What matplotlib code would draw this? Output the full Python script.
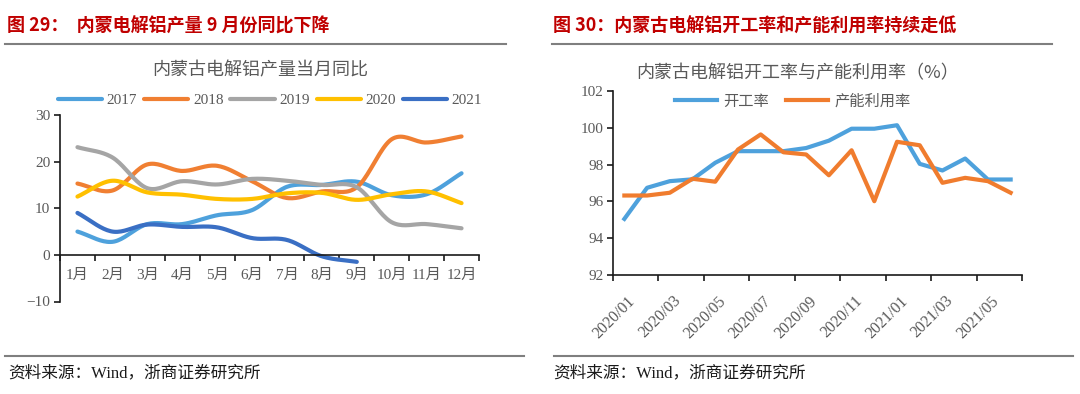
import numpy as np
import matplotlib
matplotlib.use('Agg')
import matplotlib.pyplot as plt
from matplotlib.lines import Line2D

plt.rcParams['font.family'] = ['Liberation Serif', 'Noto Sans CJK SC']

# ---------------- data ----------------
months = ['1月', '2月', '3月', '4月', '5月', '6月', '7月', '8月', '9月', '10月', '11月', '12月']
y2017 = [5.0, 2.8, 6.6, 6.6, 8.5, 9.6, 14.6, 15.0, 15.7, 12.8, 13.0, 17.5]
y2018 = [15.3, 13.8, 19.4, 18.0, 19.1, 15.8, 12.2, 13.6, 14.5, 24.8, 24.1, 25.4]
y2019 = [23.1, 20.9, 14.3, 15.8, 15.1, 16.3, 15.9, 15.0, 14.5, 7.0, 6.6, 5.7]
y2020 = [12.5, 15.9, 13.4, 12.9, 12.0, 12.0, 13.2, 13.3, 11.8, 13.0, 13.6, 11.1]
y2021 = [9.0, 5.0, 6.5, 6.0, 5.9, 3.6, 3.2, -0.3, -1.5]
series_labels = ['2017', '2018', '2019', '2020', '2021']

dates = ['2020/01', '2020/02', '2020/03', '2020/04', '2020/05', '2020/06',
         '2020/07', '2020/08', '2020/09', '2020/10', '2020/11', '2020/12',
         '2021/01', '2021/02', '2021/03', '2021/04', '2021/05', '2021/06']
kaigong = [95.05, 96.74, 97.10, 97.20, 98.10, 98.73, 98.73, 98.73, 98.90,
           99.30, 99.95, 99.95, 100.14, 98.04, 97.68, 98.33, 97.19, 97.19]
channeng = [96.32, 96.32, 96.47, 97.23, 97.07, 98.82, 99.64, 98.67, 98.55,
            97.42, 98.78, 96.01, 99.24, 99.05, 97.01, 97.28, 97.10, 96.47]
right_labels = ['开工率', '产能利用率']

# ---------------- helpers ----------------
W, H = 1080, 394
CJK = ['Noto Sans CJK SC', 'DejaVu Sans']
GRAY = '#595959'


def smooth(x, y, n=20):
    """Catmull-Rom rendering of a line through the given points (Excel-like smoothing)."""
    P = np.column_stack([np.asarray(x, float), np.asarray(y, float)])
    P = np.vstack([2 * P[0] - P[1], P, 2 * P[-1] - P[-2]])
    t = np.linspace(0, 1, n, endpoint=False)[:, None]
    out = []
    for i in range(1, len(P) - 2):
        p0, p1, p2, p3 = P[i - 1], P[i], P[i + 1], P[i + 2]
        pts = 0.5 * (2 * p1 + (-p0 + p2) * t + (2 * p0 - 5 * p1 + 4 * p2 - p3) * t ** 2
                     + (-p0 + 3 * p1 - 3 * p2 + p3) * t ** 3)
        out.append(pts)
    out.append(P[-2][None, :])
    r = np.vstack(out)
    return r[:, 0], r[:, 1]


def fx(px):
    return px / W


def fy(py):
    return 1 - py / H


fig = plt.figure(figsize=(10.8, 3.94), dpi=100)

# ---------------- headings & separators ----------------
fig.text(fx(7), fy(26), '图 29：  内蒙电解铝产量 9 月份同比下降', fontsize=13, fontweight='bold',
         color='#C00000', family=CJK, ha='left', va='center')
fig.text(fx(553), fy(26), '图 30：内蒙古电解铝开工率和产能利用率持续走低', fontsize=13, fontweight='bold',
         color='#C00000', family=CJK, ha='left', va='center')
for x0, x1, yy in [(5, 506, 44), (552, 1052, 44), (5, 524, 356), (554, 1073, 356)]:
    fig.add_artist(Line2D([fx(x0), fx(x1)], [fy(yy), fy(yy)], color='#7F7F7F', lw=1.5,
                          transform=fig.transFigure))
for xs in (8, 553):
    fig.text(fx(xs), fy(373), '资料来源：Wind，浙商证券研究所', fontsize=12, color='#1a1a1a',
             ha='left', va='center')

# ---------------- left chart ----------------
ax1 = fig.add_axes([fx(60), fy(301.5), 419 / W, 186.5 / H])
colors1 = ['#4EA1DC', '#F07F32', '#A5A5A5', '#FFC000', '#3A6FC4']
data1 = [y2017, y2018, y2019, y2020, y2021]
handles = []
for ys, c, lab in zip(data1, colors1, series_labels):
    xs = np.arange(len(ys))
    sx, sy = smooth(xs, ys)
    ln, = ax1.plot(sx, sy, color=c, lw=3.0, solid_capstyle='round', label=lab)
    handles.append(ln)
ax1.set_xlim(-0.5, 11.5)
ax1.set_ylim(-10, 30)
for s in ('top', 'right'):
    ax1.spines[s].set_visible(False)
ax1.spines['bottom'].set_position(('data', 0))
for s in ('left', 'bottom'):
    ax1.spines[s].set_linewidth(1.2)
    ax1.spines[s].set_color('#1a1a1a')
ax1.set_xticks(np.arange(-0.5, 12, 1))
ax1.set_xticks(np.arange(12), minor=True)
ax1.set_xticklabels(months, minor=True)
ax1.tick_params(axis='x', which='major', direction='out', length=4.5, width=1.2,
                color='#1a1a1a', labelbottom=False)
ax1.tick_params(axis='x', which='minor', length=0, pad=10, labelsize=11, labelcolor=GRAY)
ax1.set_yticks([-10, 0, 10, 20, 30])
ax1.tick_params(axis='y', direction='out', length=4, width=1.2, color='#1a1a1a',
                labelsize=11, labelcolor=GRAY, pad=3)
fig.text(fx(260), fy(70.5), '内蒙古电解铝产量当月同比', fontsize=13, color=GRAY,
         family=CJK, ha='center', va='center')
fig.legend(handles=handles, loc='center', bbox_to_anchor=(fx(270), fy(100)),
           bbox_transform=fig.transFigure, ncol=5, frameon=False, fontsize=11,
           handlelength=2.9, handletextpad=0.3, columnspacing=0.45, labelcolor=GRAY,
           borderpad=0)

# ---------------- right chart ----------------
ax2 = fig.add_axes([fx(613), fy(275), 409 / W, 184 / H])
xr = np.arange(len(dates))
l1, = ax2.plot(xr, kaigong, color='#4EA1DC', lw=3.0, label=right_labels[0])
l2, = ax2.plot(xr, channeng, color='#F07C2E', lw=3.0, label=right_labels[1])
ax2.set_xlim(-0.5, 17.5)
ax2.set_ylim(92, 102)
for s in ('top', 'right'):
    ax2.spines[s].set_visible(False)
for s in ('left', 'bottom'):
    ax2.spines[s].set_linewidth(1.2)
    ax2.spines[s].set_color('#1a1a1a')
ax2.set_xticks(np.arange(-0.5, 18, 2))
ax2.set_xticks(np.arange(0, 18, 2) + 0.36, minor=True)
ax2.set_xticklabels(dates[::2], minor=True)
ax2.tick_params(axis='x', which='major', direction='out', length=4.5, width=1.2,
                color='#1a1a1a', labelbottom=False)
ax2.tick_params(axis='x', which='minor', length=0, pad=17, labelsize=11.5, labelcolor=GRAY)
for t in ax2.get_xticklabels(minor=True):
    t.set_rotation(45)
    t.set_ha('right')
    t.set_va('center')
    t.set_rotation_mode('anchor')
ax2.set_yticks(np.arange(92, 103, 2))
ax2.tick_params(axis='y', direction='out', length=4, width=1.2, color='#1a1a1a',
                labelsize=11, labelcolor=GRAY, pad=3)
fig.text(fx(798), fy(73), '内蒙古电解铝开工率与产能利用率（%）', fontsize=13, color=GRAY,
         family=CJK, ha='center', va='center')
fig.legend(handles=[l1, l2], loc='center', bbox_to_anchor=(fx(793), fy(101)),
           bbox_transform=fig.transFigure, ncol=2, frameon=False, fontsize=11,
           handlelength=2.75, handletextpad=0.4, columnspacing=1.1, labelcolor=GRAY,
           borderpad=0, prop={'family': CJK, 'size': 11})

fig.savefig('out.png', dpi=100, facecolor='white')
